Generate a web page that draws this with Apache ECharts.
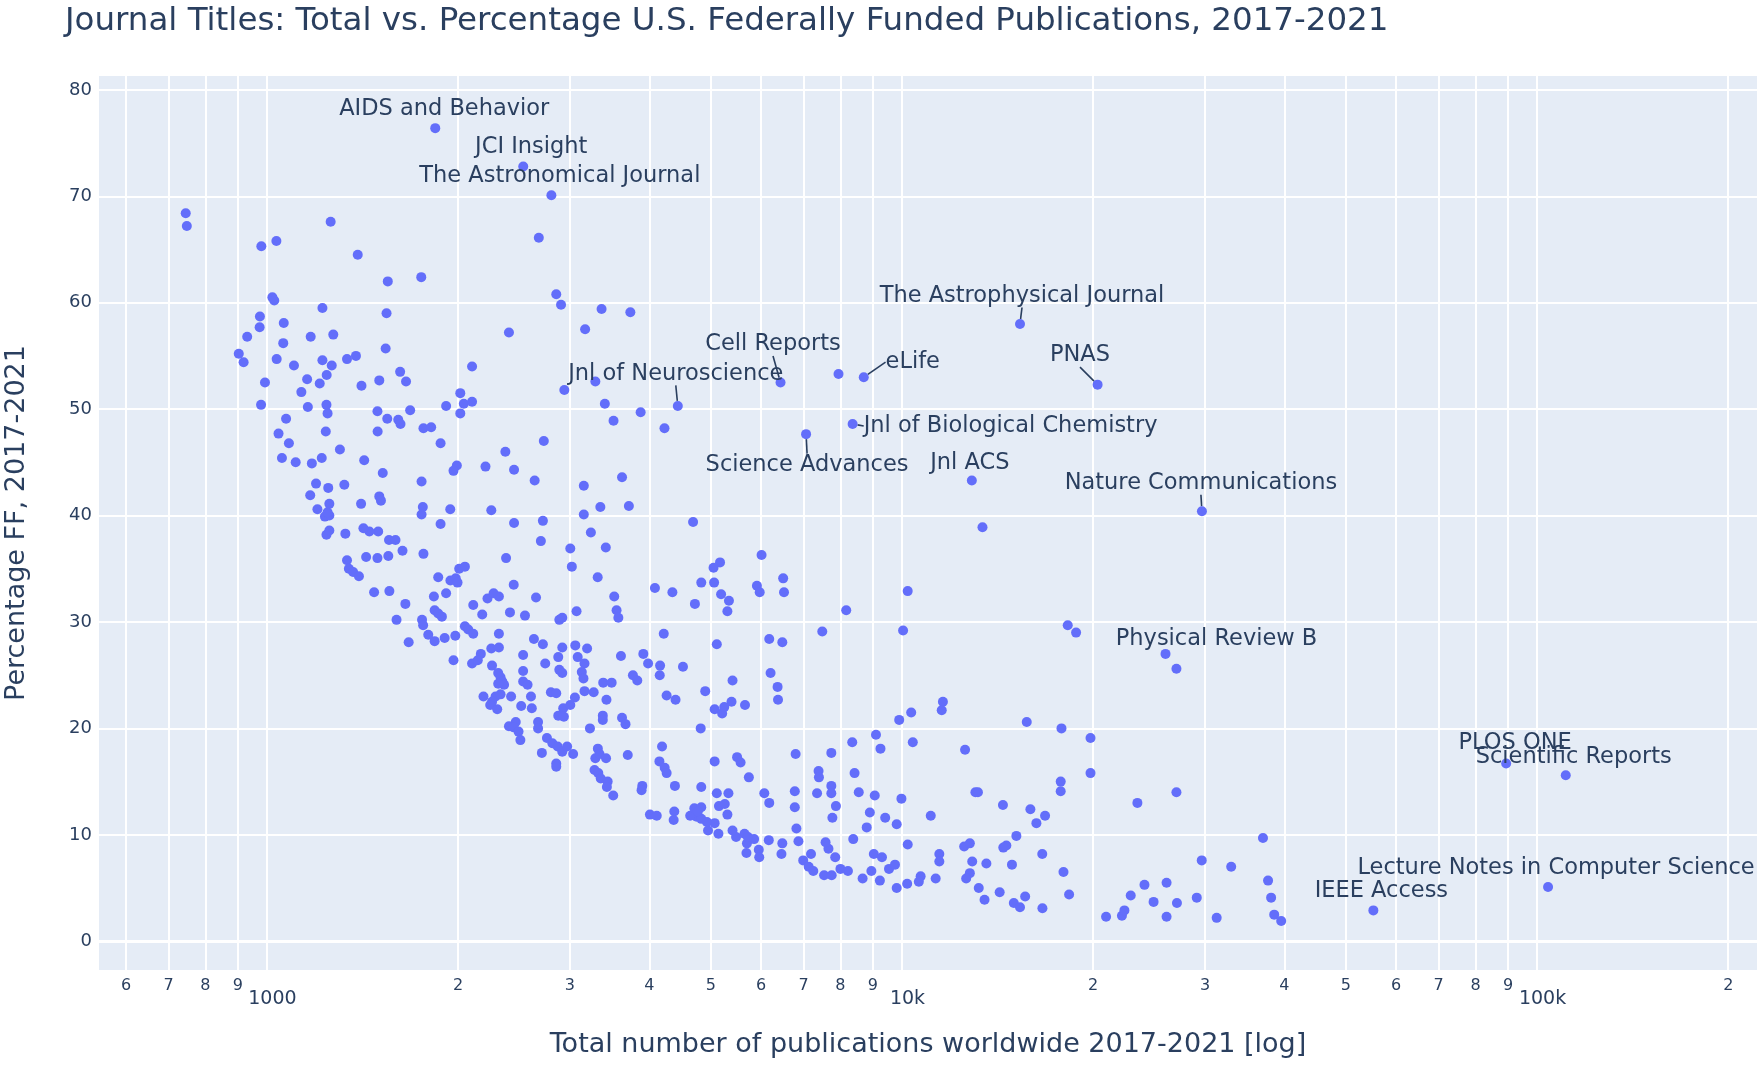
<!DOCTYPE html>
<html>
<head>
<meta charset="utf-8">
<script src="https://cdn.jsdelivr.net/npm/echarts@6/dist/echarts.min.js"></script>
<style>
html,body{margin:0;padding:0;background:#ffffff;}
#chart{width:1762px;height:1065px;}
</style>
</head>
<body>
<div id="chart"></div>
<script>
// ---- data ----
const totalPubs = [
745,748,1260,980,1035,1390,1550,1750,2680,2855,2905,3365,3735,3170,2405,1020,1027,1223,1543,975,
974,1063,931,1172,1272,1061,1538,903,919,1036,1103,1223,1265,1337,1381,2104,1621,1656,1503,1409,
1242,1157,1211,993,1133,2016,2940,3290,7945,979,1160,1241,1246,1493,1681,1547,1610,1623,1072,1043,
1083,1238,1494,1764,1814,1877,1915,2042,2104,2016,2729,2374,2209,2450,2640,3405,3514,3877,3624,3155,
3350,3715,3155,2720,2450,2256,2700,3237,3004,3417,3021,3318,4083,3523,3553,3576,3073,2887,2918,2653,
2549,2414,2447,2380,2319,2633,2720,2918,3059,3193,3086,3163,3132,3151,2876,2887,2918,2743,2532,2532,
2532,2573,3610,3915,3983,3770,3830,3385,3490,3163,3270,2800,2855,3055,3425,2256,2319,2172,2104,2148,
2262,2313,2333,2348,2363,2313,2193,2291,2333,2424,2605,1967,1980,1905,1837,1795,1755,1762,1672,1600,
1652,1832,1837,1861,1886,1915,2050,2075,2113,2113,2183,2225,2275,2319,1861,1945,1983,1996,2008,2050,
1764,1635,1557,1594,1553,1493,1433,1497,1450,1419,1329,1241,1254,1337,1346,1367,1396,1475,1559,1234,
1254,1246,1201,1254,1170,1195,1249,1324,1407,1503,1512,1752,1760,1752,1944,1877,1522,1423,1303,1220,
1177,1110,1056,1991,1967,4227,4689,13390,6010,5170,5050,6500,6520,5910,5970,4830,5060,4350,5190,5340,
5310,4720,10210,8170,7490,10040,18240,18800,27050,4216,5110,6180,6480,4160,4155,4520,6210,6370,6380,5410,
4900,4260,4400,5390,5070,5210,5250,5660,3624,3670,4820,4190,4150,4230,4260,3700,3900,3890,4390,4830,
5070,5500,5570,5740,6800,7740,8350,9100,9250,9900,10340,10400,11600,11550,15720,17830,19810,12570,19810,17780,
17780,23480,27050,7390,7400,7740,7740,7350,6780,6780,6820,6870,7870,7770,8420,8550,9060,9980,8900,9410,
8800,9810,11100,13050,13170,14420,15930,16800,16280,15140,14600,14440,14900,16630,17960,18330,15630,15000,15340,16640,
14250,13490,13210,13580,12900,12790,12620,12530,12790,11450,11450,11300,10700,10630,10210,10190,9810,9230,8950,8670,
9540,9750,9030,9300,8380,7850,7660,7580,7540,7750,8000,8220,7190,6990,7130,7250,6170,6070,6180,6480,
6460,5950,5960,5850,5690,5700,5650,5720,5480,5410,5140,4950,5070,5310,4750,4830,4930,4640,4710,4830,
4770,5110,5330,5150,5260,4380,4370,4010,4110,20960,22200,22400,22920,24090,24900,26100,26100,27100,29650,29120,
31300,32990,37020,37710,38130,38560,39550,2262,2247,2305,2514,2613,2928,2876,2935,3004,3380,3380,3226,2465,
2405,2447,2490,2507,2673,2673,2760,2815,2870,2918,2970,3035,2710,2855,2855,3320,3290,3340,3420,3280,
3325,3355,3440,3430,3510
];
const pctFF = [
68.4,67.2,67.6,65.3,65.8,64.5,62.0,62.4,66.1,60.8,59.8,59.4,59.1,57.5,57.2,60.5,60.2,59.5,59.0,58.7,
57.7,58.1,56.8,56.8,57.0,56.2,55.7,55.2,54.4,54.7,54.1,54.6,54.1,54.7,55.0,54.0,53.5,52.6,52.7,52.2,
53.2,52.8,52.4,52.5,51.6,51.5,51.8,52.6,53.3,50.4,50.2,50.4,49.6,49.8,49.9,49.1,49.0,48.6,49.1,47.7,
46.8,47.9,47.9,48.2,48.3,46.8,50.3,50.5,50.7,49.6,47.0,46.0,44.6,44.3,43.3,50.5,48.9,49.7,43.6,42.8,
40.8,40.9,40.1,39.5,39.3,40.5,37.6,38.4,36.9,37.0,35.2,34.2,33.2,32.4,31.1,30.4,31.0,30.2,30.4,32.3,
30.6,30.9,33.5,36.0,28.9,28.4,27.9,27.6,27.8,27.5,26.7,26.1,25.3,24.7,26.7,25.5,25.2,26.1,26.9,25.4,
24.4,24.1,26.8,27.0,26.1,25.0,24.5,24.3,24.3,23.5,23.4,23.4,23.3,22.9,22.7,27.5,27.6,27.0,26.1,26.4,
25.9,25.2,24.8,24.4,24.1,24.2,23.0,23.0,23.2,23.0,23.0,26.4,28.7,28.5,28.2,28.8,30.2,29.7,28.1,30.2,
31.7,32.4,31.1,30.8,30.5,32.7,29.6,29.3,28.9,31.6,30.7,32.2,32.7,32.4,34.2,33.9,34.1,33.7,35.0,35.2,
36.4,36.7,37.7,37.7,36.2,36.0,36.1,38.5,38.5,38.8,38.3,38.2,38.6,35.8,35.0,34.7,34.3,32.8,32.9,39.9,
40.0,40.3,40.6,41.1,41.9,43.0,42.6,42.9,41.1,41.8,41.4,43.2,40.8,40.1,40.6,39.2,44.0,45.2,46.2,45.4,
44.9,45.0,45.4,44.7,44.2,48.2,39.4,38.9,36.3,35.6,35.1,34.1,32.8,33.4,32.8,33.7,33.7,32.8,32.6,32.0,
31.0,31.7,32.9,31.1,29.1,29.2,29.7,29.0,25.6,28.9,27.9,28.4,28.1,25.9,25.0,25.8,25.2,23.9,22.7,24.5,
23.5,23.1,22.7,22.5,21.8,21.4,22.0,22.2,21.0,20.4,20.0,18.3,16.9,16.3,15.8,17.5,14.6,14.2,14.6,14.5,
16.9,17.3,16.8,15.4,17.6,17.7,18.7,19.4,18.1,20.8,21.5,18.7,22.5,21.7,20.6,20.0,19.1,18.0,15.8,15.0,
14.1,13.0,14.0,16.0,15.4,14.6,13.9,13.9,14.1,12.6,10.6,9.4,12.7,11.6,15.8,14.0,13.7,13.4,12.1,11.6,
10.7,11.0,11.8,14.0,14.0,12.8,12.4,11.8,11.1,9.9,9.0,8.8,7.2,8.2,6.5,4.4,4.2,3.6,3.2,3.1,
4.6,3.9,5.0,7.3,7.5,6.4,5.9,8.9,9.2,8.2,7.5,5.9,6.1,5.6,9.1,5.4,5.0,5.7,6.6,5.9,
6.8,7.2,8.2,7.9,9.6,7.9,8.7,9.3,6.2,6.2,6.8,6.6,8.2,7.6,7.0,6.6,9.5,13.9,13.0,9.2,
8.2,8.6,7.9,9.6,8.3,9.2,10.1,9.8,9.8,10.4,10.1,10.4,11.1,11.9,11.7,11.5,11.2,11.8,12.5,12.6,
12.2,13.9,13.9,12.7,12.9,12.2,11.4,11.9,11.8,2.3,2.4,2.9,4.3,5.3,3.7,5.5,2.3,3.6,7.6,4.1,
2.2,7.0,9.7,5.7,4.1,2.5,1.9,22.5,22.2,21.8,22.1,21.9,21.9,21.2,21.1,22.2,21.2,20.8,20.0,20.6,
20.2,20.1,19.7,18.9,20.6,20.0,19.1,18.6,18.3,17.8,18.3,17.6,17.7,16.7,16.4,18.1,17.2,17.6,17.2,16.1,
15.8,15.3,15.0,14.5,13.7
];

const namedJournals = ['AIDS and Behavior','JCI Insight','The Astronomical Journal','The Astrophysical Journal',
  'Cell Reports','eLife','PNAS','Jnl of Neuroscience','Jnl of Biological Chemistry','Science Advances','Jnl ACS',
  'Nature Communications','Physical Review B','PLOS ONE','Scientific Reports','Lecture Notes in Computer Science','IEEE Access'];
const namedTotals = [1841,2533,2805,15340,6438,8706,20324,4436,8361,7063,12882,29670,26000,89400,110970,104070,55240];
const namedPct = [76.4,72.8,70.1,58.0,52.5,53.0,52.3,50.3,48.6,47.65,43.3,40.4,27.0,16.7,15.6,5.1,2.9];

const xGridValues = [600,700,800,900,1000,2000,3000,4000,5000,6000,7000,8000,9000,10000,
  20000,30000,40000,50000,60000,70000,80000,90000,100000,200000];
const xTickLabels = ['6','7','8','9','1000','2','3','4','5','6','7','8','9','10k',
  '2','3','4','5','6','7','8','9','100k','2'];
const yTickValues = [0,10,20,30,40,50,60,70,80];

// ---- styling (label placement of annotations, in pixels) ----
const annotationPlacement = {
  'AIDS and Behavior': [9,-19,false],
  'JCI Insight': [8,-19,false],
  'The Astronomical Journal': [8.5,-19,false],
  'The Astrophysical Journal': [2,-28,true],
  'Cell Reports': [-7.5,-38,true],
  'eLife': [49,-15,true],
  'PNAS': [-17.6,-29,true],
  'Jnl of Neuroscience': [-2,-32,true],
  'Jnl of Biological Chemistry': [158,2,true],
  'Science Advances': [1,31,true],
  'Jnl ACS': [-2,-17,false],
  'Nature Communications': [-1,-28,true],
  'Physical Review B': [51,-15,false],
  'PLOS ONE': [9,-20,false],
  'Scientific Reports': [8,-18,false],
  'Lecture Notes in Computer Science': [8,-19,false],
  'IEEE Access': [8,-19,false]
};

const TEXT = '#2a3f5f';
const FONT = '"DejaVu Sans", Verdana, sans-serif';
const MARK = '#636efa';

const mainData = totalPubs.map((v, i) => [v, pctFF[i]]);
const namedData = namedJournals.map((n, i) => {
  const p = annotationPlacement[n];
  return {
    name: n,
    value: [namedTotals[i], namedPct[i]],
    labelLine: { show: p[2] }
  };
});

const xLines = xGridValues.map((v, i) => {
  const major = xTickLabels[i].length > 1;
  return {
    xAxis: v,
    label: major
      ? { formatter: '{m|' + xTickLabels[i] + '}', distance: 20,
          rich: { m: { fontSize: 19, color: TEXT, fontFamily: FONT, padding: [0, 0, 0, 11] } } }
      : { formatter: xTickLabels[i], fontSize: 16, distance: 8 }
  };
});
const yLines = yTickValues.map(v => ({
  yAxis: v,
  label: { formatter: String(v) },
  lineStyle: v === 0 ? { width: 3 } : {}
}));

const chart = echarts.init(document.getElementById('chart'), null, { renderer: 'canvas' });
chart.setOption({
  animation: false,
  backgroundColor: '#ffffff',
  textStyle: { fontFamily: FONT },
  title: {
    text: 'Journal Titles: Total vs. Percentage U.S. Federally Funded Publications, 2017-2021',
    left: 60, top: 0,
    textStyle: { fontSize: 32.5, fontWeight: 'normal', color: TEXT, fontFamily: FONT }
  },
  grid: {
    left: 99, right: 5, top: 76, bottom: 95,
    outerBoundsMode: 'none', containLabel: false,
    show: true, backgroundColor: '#E5ECF6', borderWidth: 0
  },
  xAxis: {
    type: 'log', logBase: 10, min: 544, max: 222000,
    axisLine: { show: false }, axisTick: { show: false }, axisLabel: { show: false },
    splitLine: { show: false }, minorSplitLine: { show: false },
    name: 'Total number of publications worldwide 2017-2021 [log]',
    nameLocation: 'middle', nameGap: 61,
    nameTextStyle: { fontSize: 27, color: TEXT, fontFamily: FONT }
  },
  yAxis: {
    type: 'value', min: -2.7, max: 81.3,
    axisLine: { show: false }, axisTick: { show: false }, axisLabel: { show: false },
    splitLine: { show: false },
    name: 'Percentage FF, 2017-2021',
    nameLocation: 'middle', nameGap: 69,
    nameTextStyle: { fontSize: 27, color: TEXT, fontFamily: FONT }
  },
  series: [
    {
      type: 'scatter', data: [], z: 1, silent: true,
      markLine: {
        z: 1, silent: true, symbol: ['none', 'none'], animation: false,
        lineStyle: { color: '#ffffff', width: 2, type: 'solid', opacity: 1 },
        label: { show: true, position: 'start', color: TEXT, fontSize: 18, fontFamily: FONT, distance: 7 },
        emphasis: { disabled: true },
        data: xLines.concat(yLines)
      }
    },
    {
      type: 'scatter', data: mainData, z: 3, silent: true,
      symbol: 'circle', symbolSize: 10,
      itemStyle: { color: MARK, opacity: 1 }
    },
    {
      type: 'scatter', data: namedData, z: 4, silent: true,
      symbol: 'circle', symbolSize: 10,
      itemStyle: { color: MARK, opacity: 1 },
      label: {
        show: true, position: 'inside', formatter: '{b}',
        color: TEXT, fontSize: 22.5, fontFamily: FONT
      },
      labelLayout: function (p) {
        const pl = annotationPlacement[namedJournals[p.dataIndex]];
        return { dx: pl[0], dy: pl[1] };
      },
      labelLine: { show: false, lineStyle: { color: TEXT, width: 1.6 } }
    }
  ]
});
</script>
</body>
</html>
